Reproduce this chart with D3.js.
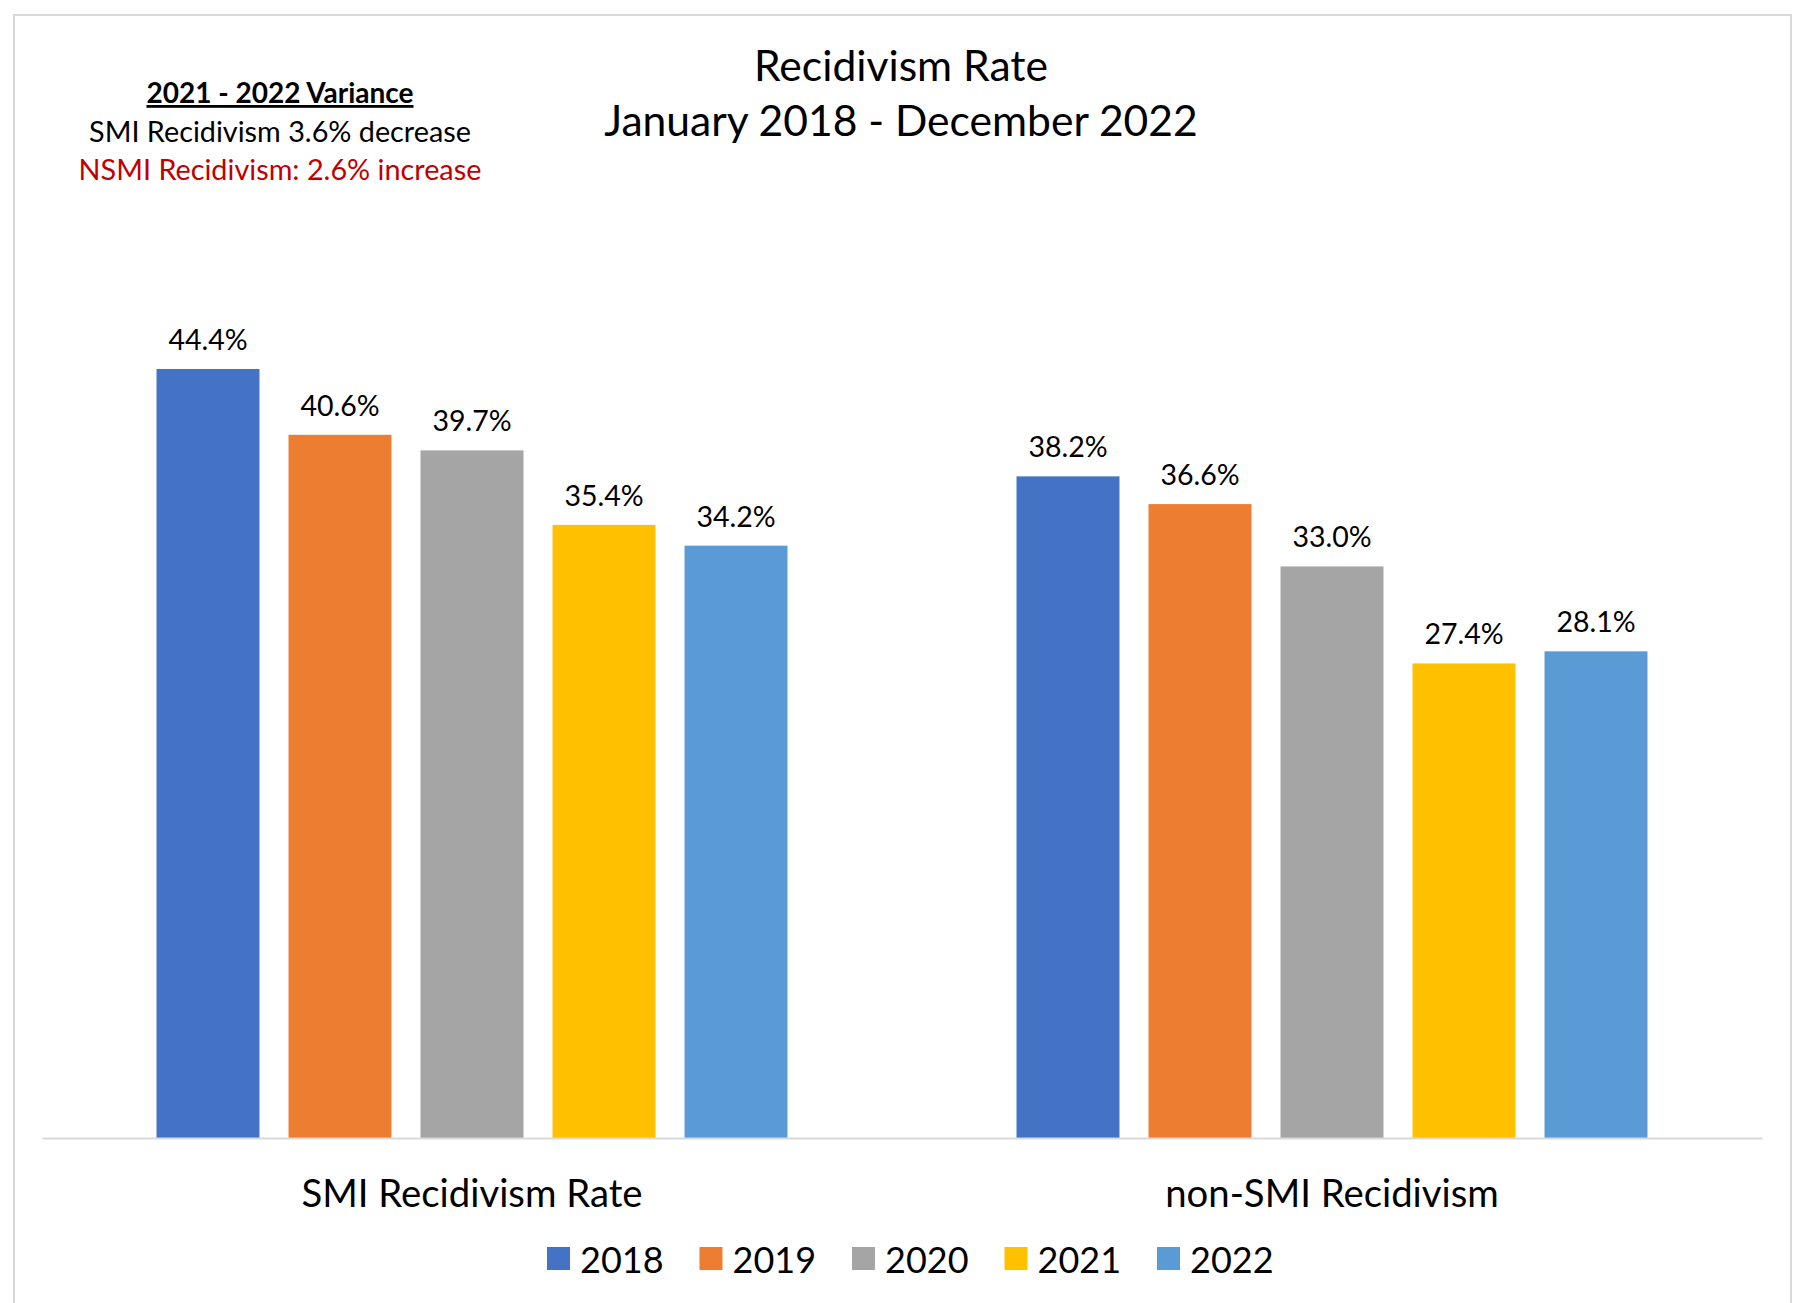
<!DOCTYPE html>
<html>
<head>
<meta charset="utf-8">
<script src="https://cdn.jsdelivr.net/npm/d3@7"></script>
<style>
  html, body { margin: 0; padding: 0; background: #fff; }
  svg { display: block; font-family: Lato, "Open Sans", sans-serif; }
</style>
</head>
<body>
<svg id="chart" width="1797" height="1303"></svg>
<script>
const categories = ["SMI Recidivism Rate", "non-SMI Recidivism"];
const years = ["2018", "2019", "2020", "2021", "2022"];
const smiRates = [44.4, 40.6, 39.7, 35.4, 34.2];
const nonSmiRates = [38.2, 36.6, 33.0, 27.4, 28.1];
const seriesColors = ["#4472C4", "#ED7D31", "#A5A5A5", "#FFC000", "#5B9BD5"];
const titleLines = ["Recidivism Rate", "January 2018 - December 2022"];
const noteLines = ["2021 - 2022 Variance", "SMI Recidivism 3.6% decrease", "NSMI Recidivism: 2.6% increase"];

const rows = [smiRates, nonSmiRates];
const data = categories.map((c, i) => ({
  category: c,
  values: years.map((y, j) => ({ year: y, value: rows[i][j] }))
}));

const svg = d3.select("#chart");

// outer border
svg.append("rect")
  .attr("x", 14).attr("y", 15)
  .attr("width", 1777).attr("height", 1300)
  .attr("fill", "none").attr("stroke", "#d9d9d9").attr("stroke-width", 2);

const plotLeft = 42, plotRight = 1762, plotTop = 272, plotBottom = 1138;

const y = d3.scaleLinear().domain([0, 50]).range([plotBottom, plotTop]);
const x0 = d3.scaleBand().domain(categories).range([plotLeft, plotRight]).padding(0);
const x1 = d3.scaleBand().domain(years).range([0, x0.bandwidth()])
  .paddingInner(0.22).paddingOuter(0.8675);
const color = d3.scaleOrdinal().domain(years).range(seriesColors);
const fmt = d => d3.format(".1f")(d) + "%";

const groups = svg.append("g").selectAll("g")
  .data(data).join("g")
  .attr("transform", d => `translate(${x0(d.category)},0)`);

groups.selectAll("rect")
  .data(d => d.values).join("rect")
  .attr("x", d => x1(d.year))
  .attr("y", d => y(d.value))
  .attr("width", x1.bandwidth())
  .attr("height", d => y(0) - y(d.value))
  .attr("fill", d => color(d.year));

groups.selectAll("text.val")
  .data(d => d.values).join("text")
  .attr("class", "val")
  .attr("x", d => x1(d.year) + x1.bandwidth() / 2)
  .attr("y", d => y(d.value) - 19)
  .attr("text-anchor", "middle")
  .attr("font-size", 28.5)
  .attr("fill", "#000")
  .text(d => fmt(d.value));

// category axis
const xAxis = d3.axisBottom(x0).tickSize(0).tickPadding(0);
const axG = svg.append("g").attr("transform", `translate(0,${plotBottom})`).call(xAxis);
axG.select(".domain").attr("stroke", "#d9d9d9").attr("stroke-width", 2);
axG.selectAll(".tick text")
  .attr("y", 69).attr("dy", 0)
  .attr("font-size", 38.3)
  .attr("font-family", "Lato, 'Open Sans', sans-serif")
  .attr("fill", "#000");

// title
svg.append("g").selectAll("text")
  .data(titleLines).join("text")
  .attr("x", 901)
  .attr("y", (d, i) => i === 0 ? 81 : 136)
  .attr("text-anchor", "middle")
  .attr("font-size", 42.6)
  .attr("fill", "#000")
  .text(d => d);

// variance note
svg.append("g").selectAll("text")
  .data(noteLines).join("text")
  .attr("x", 280)
  .attr("y", (d, i) => [103, 142, 180][i])
  .attr("text-anchor", "middle")
  .attr("font-size", (d, i) => i === 0 ? 28 : 28.8)
  .attr("font-weight", (d, i) => i === 0 ? "bold" : "normal")
  .attr("text-decoration", (d, i) => i === 0 ? "underline" : "none")
  .attr("fill", (d, i) => i === 2 ? "#C00000" : "#000")
  .text(d => d);

// legend
const legendStep = 152.5, legendX = 547;
const legend = svg.append("g").selectAll("g")
  .data(years).join("g")
  .attr("transform", (d, i) => `translate(${legendX + i * legendStep},0)`);
legend.append("rect")
  .attr("x", 0).attr("y", 1247)
  .attr("width", 23).attr("height", 23)
  .attr("fill", d => color(d));
legend.append("text")
  .attr("x", 33).attr("y", 1273)
  .attr("font-size", 36)
  .attr("fill", "#000")
  .text(d => d);
</script>
</body>
</html>
